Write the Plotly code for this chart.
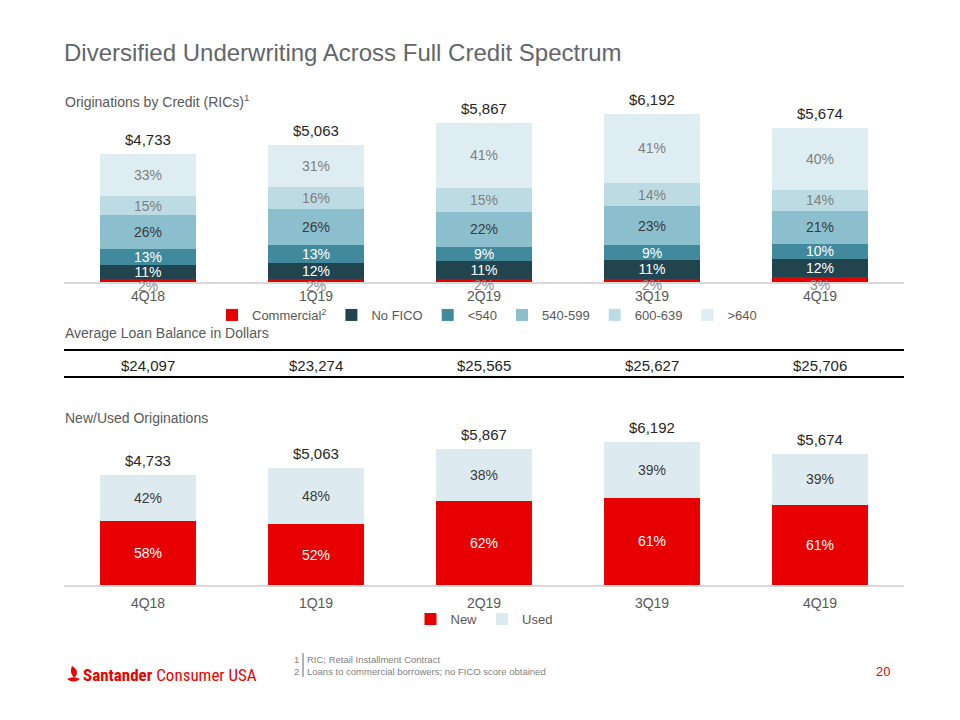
import plotly.graph_objects as go

# ---------------- data ----------------
quarters = ["4Q18", "1Q19", "2Q19", "3Q19", "4Q19"]
totals = [4733, 5063, 5867, 6192, 5674]
total_labels = ["$4,733", "$5,063", "$5,867", "$6,192", "$5,674"]

credit_names = ["Commercial<sup>2</sup>", "No FICO", "<540", "540-599", "600-639", ">640"]
pct_commercial = [2, 2, 2, 2, 3]
pct_nofico = [11, 12, 11, 11, 12]
pct_lt540 = [13, 13, 9, 9, 10]
pct_540_599 = [26, 26, 22, 23, 21]
pct_600_639 = [15, 16, 15, 14, 14]
pct_gt640 = [33, 31, 41, 41, 40]

avg_balance = ["$24,097", "$23,274", "$25,565", "$25,627", "$25,706"]

pct_new = [58, 52, 62, 61, 61]
pct_used = [42, 48, 38, 39, 39]

# ---------------- styling ----------------
# the page body has an 8px margin: the figure is placed at (8, 8)
OFF = 8
W, H = 944, 704
FONT = "Liberation Sans, Arial, sans-serif"
GRAY = "#595959"
credit_colors = ["#E60000", "#22444F", "#418A9E", "#8BBFCD", "#BCDBE2", "#DDEDF2"]
credit_text_colors = ["#808080", "#FFFFFF", "#FFFFFF", "#3A3A3A", "#7F7F7F", "#7F7F7F"]
NEW_COLOR = "#E60000"
USED_COLOR = "#DDEBF0"


def px_x(x):
    return (x - OFF) / W


def px_y(y):
    return 1 - (y - OFF) / H


fig = go.Figure()

credit_pcts = [pct_commercial, pct_nofico, pct_lt540, pct_540_599, pct_600_639, pct_gt640]
for i, (name, pcts, col, tcol) in enumerate(zip(credit_names, credit_pcts, credit_colors, credit_text_colors)):
    fig.add_trace(go.Bar(
        x=quarters, y=[t * p / 100 for t, p in zip(totals, pcts)],
        name=name, marker=dict(color=col, line=dict(width=0)),
        text=None if i == 0 else [f"{p}%" for p in pcts],
        textposition="inside", insidetextanchor="middle",
        textangle=0, textfont=dict(color=tcol, size=14, family=FONT),
        xaxis="x", yaxis="y", legend="legend", hoverinfo="skip",
    ))

for name, pcts, col, tcol in [("New", pct_new, NEW_COLOR, "#FFFFFF"), ("Used", pct_used, USED_COLOR, "#3A3A3A")]:
    fig.add_trace(go.Bar(
        x=quarters, y=[t * p / 100 for t, p in zip(totals, pcts)],
        name=name, marker=dict(color=col, line=dict(width=0)),
        text=[f"{p}%" for p in pcts], textposition="inside", insidetextanchor="middle",
        textangle=0, textfont=dict(color=tcol, size=14, family=FONT),
        xaxis="x2", yaxis="y2", legend="legend2", hoverinfo="skip",
    ))

annotations = []
# commercial share labels (sit on the axis line, as in the reference)
for q, t, p in zip(quarters, totals, pct_commercial):
    annotations.append(dict(
        x=q, y=t * p / 200, xref="x", yref="y", text=f"{p}%", showarrow=False,
        yanchor="middle", yshift=-5, font=dict(size=14, color="#8C8C8C", family=FONT)))

# totals above bars
for ax in ["", "2"]:
    for q, t, lab in zip(quarters, totals, total_labels):
        annotations.append(dict(
            x=q, y=t, xref="x" + ax, yref="y" + ax, text=lab, showarrow=False,
            yanchor="bottom", yshift=4, font=dict(size=15, color="#262626", family=FONT)))

# average loan balance row
for q, v in zip(quarters, avg_balance):
    annotations.append(dict(
        x=q, y=px_y(365), xref="x", yref="paper", text=v, showarrow=False,
        yanchor="middle", font=dict(size=15, color="#262626", family=FONT)))

# titles / section headings
annotations += [
    dict(x=px_x(62), y=px_y(52), xref="paper", yref="paper", xanchor="left", yanchor="middle",
         text="Diversified Underwriting Across Full Credit Spectrum", showarrow=False,
         font=dict(size=24, color="#63666A", family=FONT)),
    dict(x=px_x(63), y=px_y(101), xref="paper", yref="paper", xanchor="left", yanchor="middle",
         text="Originations by Credit (RICs)<sup>1</sup>", showarrow=False,
         font=dict(size=14, color=GRAY, family=FONT)),
    dict(x=px_x(63), y=px_y(333), xref="paper", yref="paper", xanchor="left", yanchor="middle",
         text="Average Loan Balance in Dollars", showarrow=False,
         font=dict(size=14, color=GRAY, family=FONT)),
    dict(x=px_x(63), y=px_y(418), xref="paper", yref="paper", xanchor="left", yanchor="middle",
         text="New/Used Originations", showarrow=False,
         font=dict(size=14, color=GRAY, family=FONT)),
    # footnotes
    dict(x=px_x(301), y=px_y(659), xref="paper", yref="paper", xanchor="right", yanchor="middle",
         text="1", showarrow=False, font=dict(size=9.5, color="#7F7F7F", family=FONT)),
    dict(x=px_x(301), y=px_y(671), xref="paper", yref="paper", xanchor="right", yanchor="middle",
         text="2", showarrow=False, font=dict(size=9.5, color="#7F7F7F", family=FONT)),
    dict(x=px_x(305), y=px_y(659), xref="paper", yref="paper", xanchor="left", yanchor="middle",
         text="RIC; Retail Installment Contract", showarrow=False,
         font=dict(size=9.5, color="#7F7F7F", family=FONT)),
    dict(x=px_x(305), y=px_y(671), xref="paper", yref="paper", xanchor="left", yanchor="middle",
         text="Loans to commercial borrowers; no FICO score obtained", showarrow=False,
         font=dict(size=9.5, color="#7F7F7F", family=FONT)),
    # page number
    dict(x=px_x(883), y=px_y(671), xref="paper", yref="paper", xanchor="center", yanchor="middle",
         text="20", showarrow=False, font=dict(size=13, color="#E60000", family=FONT)),
    # logo text
    dict(x=px_x(81), y=px_y(675), xref="paper", yref="paper", xanchor="left", yanchor="middle",
         text="<b>Santander</b> Consumer USA", showarrow=False,
         font=dict(size=17, color="#EC0000",
                   family="Liberation Sans Narrow, Roboto Condensed, Liberation Sans, sans-serif")),
]


def path_px(cmds):
    out = []
    for c in cmds:
        if isinstance(c, str):
            out.append(c)
        else:
            out.append(f"{px_x(c[0]):.5f},{px_y(c[1]):.5f}")
    return " ".join(out)


shapes = [
    # table rules
    dict(type="line", xref="paper", yref="paper", x0=px_x(64), x1=px_x(904), y0=px_y(350), y1=px_y(350),
         line=dict(color="#000000", width=2)),
    dict(type="line", xref="paper", yref="paper", x0=px_x(64), x1=px_x(904), y0=px_y(377), y1=px_y(377),
         line=dict(color="#000000", width=2)),
    # footnote divider
    dict(type="line", xref="paper", yref="paper", x0=px_x(303), x1=px_x(303), y0=px_y(653), y1=px_y(677),
         line=dict(color="#7F7F7F", width=1.2)),
    # logo flame
    dict(type="path", xref="paper", yref="paper", line=dict(width=0), fillcolor="#EC0000",
         path=path_px(["M", (67, 679), "Q", (73.5, 675.5), (80, 679), "Q", (73.5, 684), (67, 679), "Z"])),
    dict(type="path", xref="paper", yref="paper", line=dict(width=0), fillcolor="#EC0000",
         path=path_px(["M", (72, 666), "C", (77.5, 669), (78.5, 673.5), (74.5, 677.5),
                       "C", (71, 675.5), (70, 671), (72, 666), "Z"])),
]

xdom = [px_x(64), px_x(904)]
common_x = dict(domain=xdom, showgrid=False, zeroline=False, showline=True, linecolor="#D9D9D9",
                linewidth=2, ticks="", tickfont=dict(size=14, color=GRAY, family=FONT))
common_y = dict(range=[0, 7000], showgrid=False, zeroline=False, showticklabels=False, showline=False)

fig.update_layout(
    width=W, height=H, margin=dict(l=0, r=0, t=0, b=0),
    paper_bgcolor="#FFFFFF", plot_bgcolor="#FFFFFF",
    barmode="stack", bargap=0.43,
    font=dict(family=FONT, color=GRAY),
    uniformtext=dict(mode="show", minsize=14),
    xaxis=dict(**common_x, anchor="y"),
    yaxis=dict(**common_y, domain=[px_y(282), px_y(92)], anchor="x"),
    xaxis2=dict(**common_x, anchor="y2", ticklabelstandoff=4),
    yaxis2=dict(**common_y, domain=[px_y(585), px_y(423)], anchor="x2"),
    legend=dict(orientation="h", x=px_x(487), xanchor="center", y=px_y(315), yanchor="middle",
                font=dict(size=13, color=GRAY, family=FONT), itemwidth=30, traceorder="normal",
                bgcolor="rgba(0,0,0,0)"),
    legend2=dict(orientation="h", x=px_x(484), xanchor="center", y=px_y(619), yanchor="middle",
                 font=dict(size=13, color=GRAY, family=FONT), itemwidth=30, traceorder="normal",
                 bgcolor="rgba(0,0,0,0)"),
    annotations=annotations, shapes=shapes,
    hovermode=False,
)

fig.write_html("out.html")
